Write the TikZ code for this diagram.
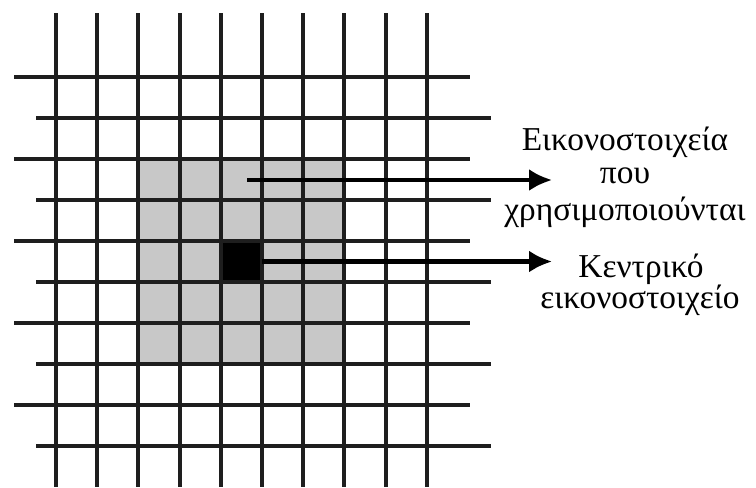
\documentclass[tikz,border=0pt]{standalone}
\usepackage{fontspec}
\setmainfont{Liberation Serif}
\usetikzlibrary{arrows.meta}
\definecolor{cellgray}{RGB}{200,200,200}
\definecolor{gridline}{RGB}{30,30,30}

\begin{document}
\begin{tikzpicture}[
    x=0.02cm, y=-0.02cm,
    >={Latex[length=4.6mm,width=4.4mm]},
    gridln/.style={draw=gridline, line width=2.3pt},
    arrowln/.style={->, draw=black, line width=2.3pt},
    lbl/.style={anchor=base, font=\fontsize{19}{22}\selectfont, inner sep=0pt}
]
  \useasboundingbox (0,0) rectangle (756,487);

  % Ventana 5x5 en gris
  \fill[cellgray] (138.4,159) rectangle (344.4,364);

  % Pixel central
  \node[fill=black, minimum width=0.824cm, minimum height=0.82cm, inner sep=0pt] (cen) at (241.4,261.5) {};

  % Lineas verticales
  \foreach \i in {0,...,9}
    \draw[gridln] (56+41.2*\i,13) -- (56+41.2*\i,487);

  % Lineas horizontales (alternadas)
  \foreach \j in {0,2,4,6,8}
    \draw[gridln] (14,77+41*\j) -- (470,77+41*\j);
  \foreach \j in {1,3,5,7,9}
    \draw[gridln] (36,77+41*\j) -- (491,77+41*\j);

  % Etiquetas
  \node[lbl] (lblvec1) at (625,150) {Εικονοστοιχεία};
  \node[lbl] (lblvec2) at (625,183) {που};
  \node[lbl] (lblvec3) at (625,220) {χρησιμοποιούνται};
  \node[lbl] (lblcen1) at (641,277) {Κεντρικό};
  \node[lbl] (lblcen2) at (640,308) {εικονοστοιχείο};

  % Flechas
  \coordinate (srcvec) at (247,180);
  \coordinate (tipvec) at (552,180);
  \coordinate (tipcen) at (552,261.5);
  \draw[arrowln] (srcvec) -- (tipvec);
  \draw[arrowln] (cen.east) -- (tipcen);

\end{tikzpicture}
\end{document}
